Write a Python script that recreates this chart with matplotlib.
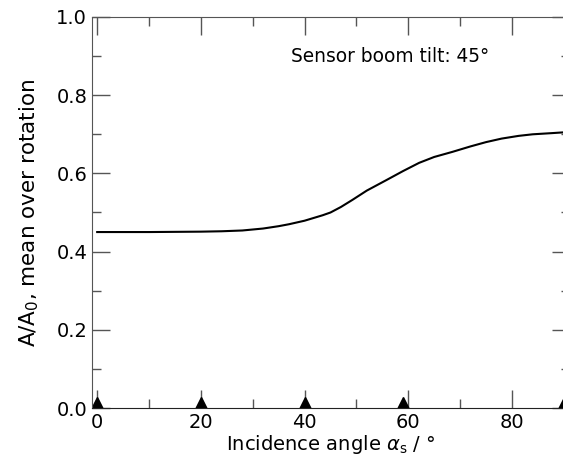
import matplotlib
matplotlib.use("Agg")
import matplotlib.pyplot as plt
from matplotlib.ticker import MultipleLocator

# curve data
angle = [0, 10, 20, 24, 28, 32, 35, 37, 40, 42, 43.5, 45, 47, 49.2, 52, 55.8, 59, 62.1,
         65, 68.5, 72, 75, 78, 81.3, 84, 87.7, 90]
ratio = [0.450, 0.450, 0.451, 0.452, 0.454, 0.459, 0.465, 0.470, 0.479, 0.487, 0.493, 0.500,
         0.514, 0.532, 0.556, 0.583, 0.606, 0.627, 0.642, 0.655, 0.669, 0.680, 0.689,
         0.696, 0.700, 0.703, 0.705]
marker_angles = [0, 20, 40, 59, 90]
marker_vals = [0, 0, 0, 0, 0]

fig = plt.figure(figsize=(5.63, 4.61), dpi=100)
ax = fig.add_axes([92/563, 53/461, (570-92)/563, (408-17)/461])

ax.plot(angle, ratio, color="black", lw=1.5)
ax.plot(marker_angles, marker_vals, "^", color="black", ms=15.5, clip_on=True)

ax.set_xlim(-1, 91.2)
ax.set_ylim(0, 1)
ax.xaxis.set_major_locator(MultipleLocator(20))
ax.xaxis.set_minor_locator(MultipleLocator(10))
ax.yaxis.set_major_locator(MultipleLocator(0.2))
ax.yaxis.set_minor_locator(MultipleLocator(0.1))
ax.tick_params(which="both", direction="in", top=True, right=True, color="#555555", labelsize=14)
ax.tick_params(which="major", length=13, width=1)
ax.tick_params(which="minor", length=6.5, width=1)
for s in ax.spines.values():
    s.set_color("#555555")
ax.spines["bottom"].set_color("#222222")

ax.set_xlabel(r"Incidence angle $\alpha_\mathrm{s}$ / °", fontsize=14, labelpad=1)
ax.set_ylabel(r"A/A$_0$, mean over rotation", fontsize=15.5, labelpad=11)
ax.text(37.4, 0.90, "Sensor boom tilt: 45°", fontsize=13.4, va="center", ha="left")

fig.savefig("out.png", dpi=100)
